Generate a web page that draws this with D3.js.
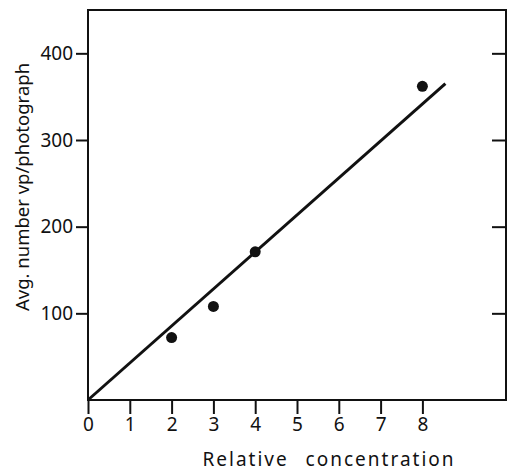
<!DOCTYPE html>
<html>
<head>
<meta charset="utf-8">
<script src="https://cdn.jsdelivr.net/npm/d3@7"></script>
<style>
  body { margin: 0; background: white; }
  text { font-family: "Noto Sans", "DejaVu Sans", sans-serif; fill: #111; }
</style>
</head>
<body>
<div id="vis"></div>
<script>
const concentration = [2, 3, 4, 8];
const vpCount = [72, 108, 171, 362];
const fitX = [0, 8.55];
const fitY = [0, 365];
const xTicks = [0, 1, 2, 3, 4, 5, 6, 7, 8];
const yTicks = [100, 200, 300, 400];

const width = 507;
const height = 473;

const SVG = d3.select("#vis").append("svg")
  .attr("width", width).attr("height", height);

const x = d3.scaleLinear().domain([0, 10]).range([88, 506]);
const y = d3.scaleLinear().domain([0, 450]).range([400, 10]);

// marco
SVG.append("rect")
  .attr("x", x(0)).attr("y", y(450))
  .attr("width", x(10) - x(0)).attr("height", y(0) - y(450))
  .style("fill", "none").style("stroke", "#111").style("stroke-width", 2);

const xAxis = SVG.append("g")
  .attr("transform", `translate(0,${y(0)})`)
  .call(d3.axisBottom(x).tickValues(xTicks).tickSize(14).tickPadding(4).tickFormat(d3.format("d")));

const yAxis = SVG.append("g")
  .attr("transform", `translate(${x(0)},0)`)
  .call(d3.axisLeft(y).tickValues(yTicks).tickSize(12).tickPadding(3).tickFormat(d3.format("d")));

const yRight = SVG.append("g")
  .attr("transform", `translate(${x(10)},0)`)
  .call(d3.axisLeft(y).tickValues(yTicks).tickSize(14).tickFormat(""));

[xAxis, yAxis, yRight].forEach(g => {
  g.select(".domain").remove();
  g.selectAll("line").style("stroke", "#111").style("stroke-width", 2);
  g.selectAll("text").style("font-size", "19px").style("fill", "#111")
    .style("font-family", '"Noto Sans", sans-serif');
});

// recta de ajuste
const line = d3.line().x(d => x(d[0])).y(d => y(d[1]));
SVG.append("path")
  .datum(fitX.map((v, i) => [v, fitY[i]]))
  .attr("d", line)
  .style("fill", "none")
  .style("stroke", "#111")
  .style("stroke-width", 3);

SVG.selectAll("circle")
  .data(concentration.map((v, i) => ({ c: v, n: vpCount[i] })))
  .enter()
  .append("circle")
  .attr("cx", d => x(d.c))
  .attr("cy", d => y(d.n))
  .attr("r", 5.5)
  .style("fill", "#111");

SVG.append("text")
  .attr("x", 329).attr("y", 466)
  .attr("text-anchor", "middle")
  .style("font-size", "19px")
  .style("letter-spacing", "2px")
  .style("word-spacing", "10px")
  .text("Relative concentration");

SVG.append("text")
  .attr("transform", "translate(29,187) rotate(-90)")
  .attr("text-anchor", "middle")
  .style("font-size", "18.5px")
  .text("Avg. number vp/photograph");
</script>
</body>
</html>
